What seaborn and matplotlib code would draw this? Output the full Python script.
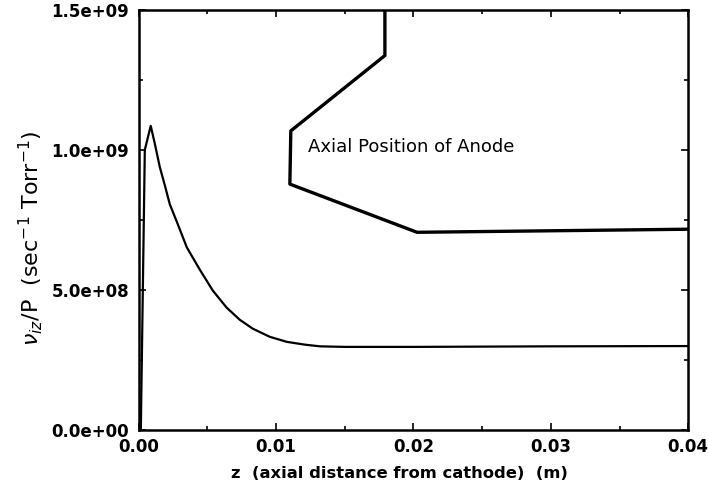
import pandas as pd
import matplotlib
matplotlib.use('Agg')
import matplotlib.pyplot as plt
import matplotlib.ticker as mticker
import seaborn as sns

# ionization frequency curve
z_nu = [0.0, 0.00015, 0.00044, 0.00087, 0.00117, 0.00153, 0.00189, 0.00226,
        0.00284, 0.0035, 0.00444, 0.00539, 0.0064, 0.00735, 0.0083, 0.00954,
        0.01078, 0.01209, 0.0132, 0.015, 0.02, 0.03, 0.04]
nu_p = [0.0, 0.0, 10.0e8, 10.86e8, 10.22e8, 9.39e8, 8.75e8, 8.06e8,
        7.35e8, 6.52e8, 5.73e8, 4.98e8, 4.37e8, 3.94e8, 3.62e8, 3.33e8,
        3.15e8, 3.05e8, 2.99e8, 2.97e8, 2.97e8, 2.99e8, 3.0e8]

# outline marking the axial position of the anode
z_anode = [0.01792, 0.01792, 0.01107, 0.0110, 0.02026, 0.04]
y_anode = [15.0e8, 13.37e8, 10.68e8, 8.78e8, 7.06e8, 7.17e8]

x_ticks = [0.0, 0.01, 0.02, 0.03, 0.04]
y_ticks = [0.0, 5e8, 1e9, 1.5e9]

curve = pd.DataFrame({'z': z_nu, 'nu': nu_p})
anode = pd.DataFrame({'z': z_anode, 'nu': y_anode})

sns.set_style('ticks', {'axes.edgecolor': 'black', 'text.color': 'black',
                        'xtick.color': 'black', 'ytick.color': 'black',
                        'axes.labelcolor': 'black'})
plt.rcParams['font.family'] = ['DejaVu Sans']

fig = plt.figure(figsize=(7.08, 4.91), dpi=100)
ax = fig.add_axes([0.196, 0.124, 0.776, 0.856])

sns.lineplot(data=curve, x='z', y='nu', sort=False, estimator=None,
             color='black', linewidth=1.6, ax=ax)
sns.lineplot(data=anode, x='z', y='nu', sort=False, estimator=None,
             color='black', linewidth=2.4, ax=ax)

ax.text(0.0123, 10.1e8, 'Axial Position of Anode', fontsize=13,
        va='center', ha='left')

ax.set_xlim(0, 0.04)
ax.set_ylim(0, 1.5e9)
ax.set_xticks(x_ticks)
ax.set_yticks(y_ticks)
ax.xaxis.set_minor_locator(mticker.MultipleLocator(0.005))
ax.yaxis.set_minor_locator(mticker.MultipleLocator(2.5e8))
ax.xaxis.set_major_formatter(mticker.FormatStrFormatter('%.2f'))
ax.yaxis.set_major_formatter(mticker.FuncFormatter(lambda v, p: '{:.1e}'.format(v)))
ax.tick_params(which='both', direction='in', top=True, right=True, width=1.2)
ax.tick_params(which='major', length=5, labelsize=12)
ax.tick_params(axis='x', which='major', pad=6)
ax.tick_params(axis='y', which='major', pad=7)
ax.tick_params(which='minor', length=3)
for lab in ax.get_xticklabels() + ax.get_yticklabels():
    lab.set_fontweight('bold')
for s in ax.spines.values():
    s.set_linewidth(1.8)

ax.set_xlabel('z  (axial distance from cathode)  (m)', fontsize=11.8,
              fontweight='bold')
ax.xaxis.set_label_coords(0.475, -0.085)
ax.set_ylabel(r'$\nu_{iz}$/P  (sec$^{-1}$ Torr$^{-1}$)', fontsize=16)
ax.yaxis.set_label_coords(-0.17, 0.457)

fig.savefig('out.png', dpi=100)
